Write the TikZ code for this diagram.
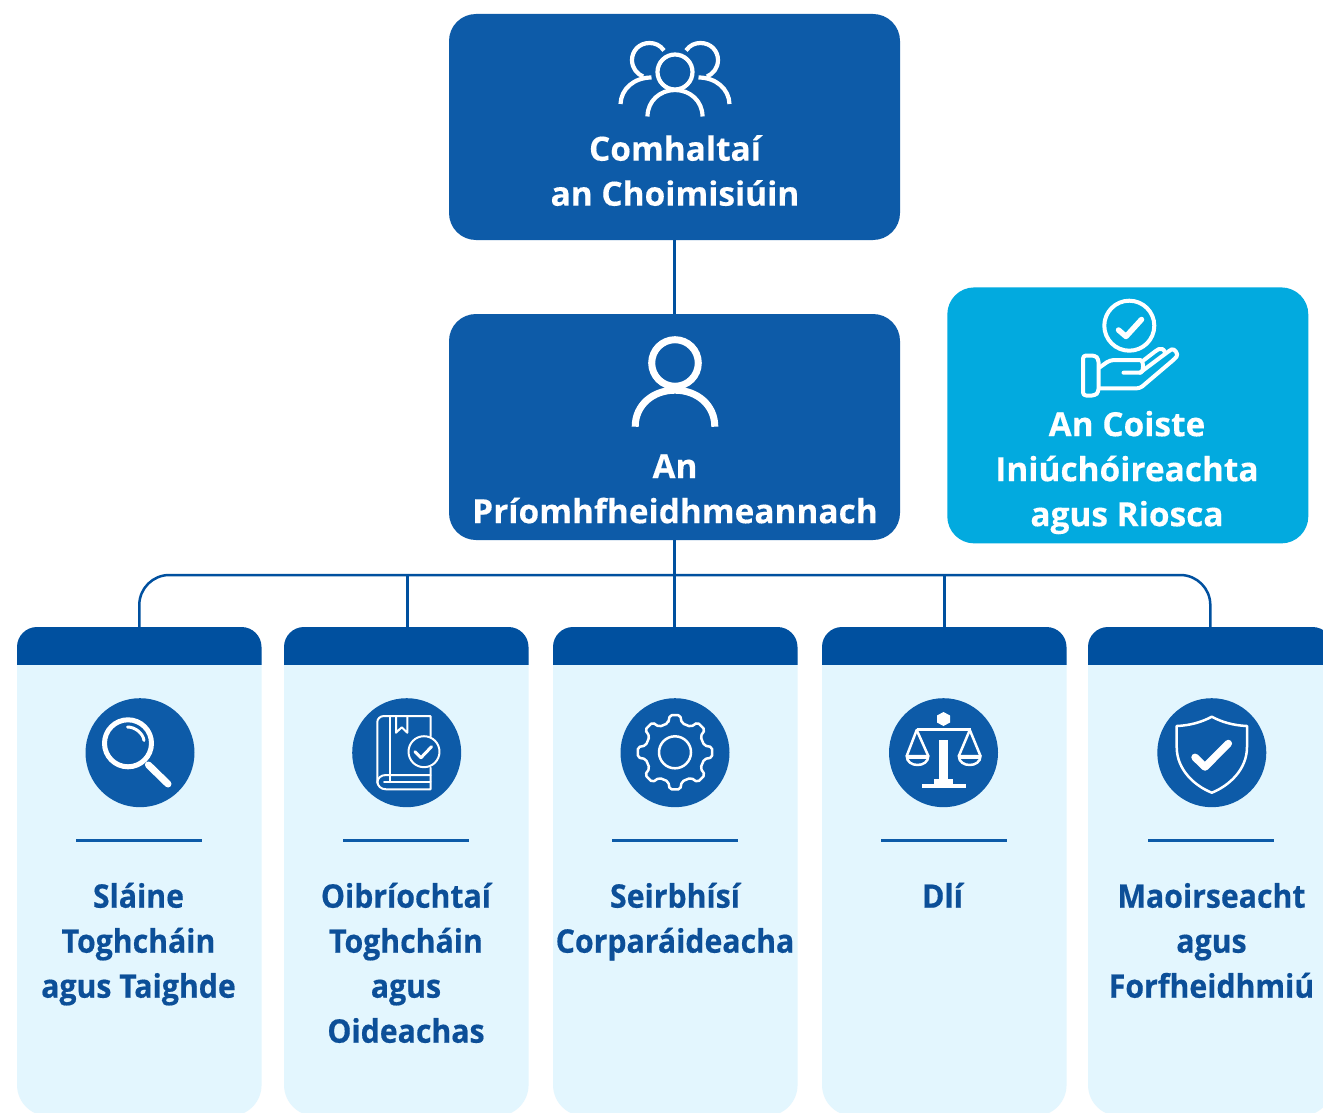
\documentclass[tikz,border=0pt]{standalone}
\usepackage{fontspec}
\setmainfont{Open Sans}[BoldFeatures={FakeBold=0.25}]
\newfontfamily\condfont{Open Sans}[FakeStretch=0.93,BoldFeatures={FakeBold=0.5}]
\definecolor{boxblue}{HTML}{0D5BA8}
\definecolor{hdrblue}{HTML}{00509F}
\definecolor{cyanbox}{HTML}{02AADF}
\definecolor{cardbg}{HTML}{E3F6FE}
\definecolor{cardtxt}{HTML}{0C4F98}
\tikzset{
  topbox/.style={fill=boxblue,rounded corners=27pt,minimum width=451pt,minimum height=226pt,inner sep=0pt},
  sidebox/.style={fill=cyanbox,rounded corners=27pt,minimum width=361pt,minimum height=256pt,inner sep=0pt},
  cardbox/.style={fill=cardbg,rounded corners=31pt,minimum width=244.5pt,minimum height=489pt,inner sep=0pt},
  hdrbox/.style={fill=hdrblue,rounded corners=20pt},
  whitetxt/.style={text=white,align=center,anchor=north,inner sep=0pt,font=\fontsize{33.4}{45}\selectfont\bfseries},
  cardtext/.style={text=cardtxt,align=center,anchor=north,inner sep=0pt,font=\fontsize{32.5}{45}\selectfont\condfont\bfseries},
  conn/.style={draw=hdrblue,line width=2.5pt},
  rulel/.style={draw=boxblue,line width=2.5pt},
  badge/.style={fill=boxblue,circle,minimum size=109pt,inner sep=0pt},
  ico/.style={draw=white,line join=round,line cap=round,fill=none},
}
\newcommand{\cardshape}[3]{% name, left x, centre x
  \node[cardbox] (#1) at (#3,871.5) {};
  \begin{scope}
    \clip (#2-1,627) rectangle (#2+246,664);
    \fill[hdrbox] (#2,627) rectangle (#2+244.5,760);
  \end{scope}
}
\begin{document}
\begin{tikzpicture}[x=1pt,y=-1pt]
\useasboundingbox (0,0) rectangle (1323,1113);
\clip (0,0) rectangle (1323,1113);
\fill[white] (0,0) rectangle (1323,1113);

% boxes
\node[topbox] (members) at (674.5,127) {};
\node[topbox] (ceo) at (674.5,427) {};
\node[sidebox] (audit) at (1127.8,415.4) {};

% cards
\cardshape{c1}{17}{139.3}
\cardshape{c2}{284}{406.3}
\cardshape{c3}{553}{675.3}
\cardshape{c4}{822}{944.3}
\cardshape{c5}{1088}{1210.3}

% connectors
\coordinate (bus) at (674.5,575);
\coordinate (d2) at (407.5,665);
\coordinate (d4) at (944.5,665);
\draw[conn] (members.south) -- (ceo.north);
\draw[conn] (ceo.south) -- (ceo.south |- c3.north);
\draw[conn,rounded corners=30pt] (c1.north) |- (bus) -| (c5.north);
\draw[conn] (bus -| d2) -- (d2);
\draw[conn] (bus -| d4) -- (d4);

% texts
\node[whitetxt] (t1) at (675,129) {\strut Comhaltaí\\an Choimisiúin};
\node[whitetxt] (t2) at (675,446.5) {\strut An\\Príomhfheidhmeannach};
\node[whitetxt] (t3) at (1127,404.5) {\strut An Coiste\\Iniúchóireachta\\agus Riosca};
\node[cardtext] (l1) at (138.5,876) {\strut Sláine\\Toghcháin\\agus Taighde};
\node[cardtext] (l2) at (406,876) {\strut Oibríochtaí\\Toghcháin\\agus\\Oideachas};
\node[cardtext] (l3) at (675,876) {\strut Seirbhísí\\Corparáideacha};
\node[cardtext] (l4) at (942.5,876) {\strut Dlí};
\node[cardtext] (l5) at (1211.5,876) {\strut Maoirseacht\\agus\\Forfheidhmiú};

% rules
\draw[rulel] (76,840.5) -- (202,840.5);
\draw[rulel] (343,840.5) -- (469,840.5);
\draw[rulel] (612,840.5) -- (738,840.5);
\draw[rulel] (881,840.5) -- (1007,840.5);
\draw[rulel] (1148,840.5) -- (1274,840.5);

% badges
\node[badge] (b1) at (140,752.7) {};
\node[badge] (b2) at (406.7,752.7) {};
\node[badge] (b3) at (675,752.7) {};
\node[badge] (b4) at (943.5,752.7) {};
\node[badge] (b5) at (1211.8,752.7) {};

% people icon
\begin{scope}[ico,line width=4.2pt]
  \draw[line cap=butt] (675,72) circle[radius=17.5];
  \draw[line cap=butt] (647.5,116.5) .. controls (647.5,101) and (660,90) .. (675,90) .. controls (690,90) and (702.5,101) .. (702.5,116.5);
  \draw[line cap=butt] (664,50.5) .. controls (660,45) and (655,43) .. (649.5,43) .. controls (639,43) and (632,51) .. (632,60) .. controls (632,68) and (637,74) .. (643,76.5);
  \draw[line cap=butt] (651.5,77.5) .. controls (634,77.5) and (621,89) .. (620.5,104);
  \draw[line cap=butt] (686,50.5) .. controls (690,45) and (695,43) .. (700.5,43) .. controls (711,43) and (718,51) .. (718,60) .. controls (718,68) and (713,74) .. (707,76.5);
  \draw[line cap=butt] (698.5,77.5) .. controls (716,77.5) and (729,89) .. (729.5,104);
\end{scope}

% person icon
\begin{scope}[ico,line width=7pt]
  \draw[line cap=butt] (675,363) circle[radius=23.3];
  \draw[line cap=butt] (635.2,426.7) .. controls (635.2,405) and (653,390.2) .. (675,390.2) .. controls (697,390.2) and (714.8,405) .. (714.8,426.7);
\end{scope}

% hand icon
\begin{scope}[ico,line width=4pt]
  \draw (1129.3,325.7) circle[radius=25];
  \draw[line width=5.5pt] (1118.5,330) -- (1126,336.5) -- (1141.5,319.5);
  \draw[rounded corners=3pt] (1083,355.5) -- (1095,355.5) -- (1098.5,359) -- (1098.5,392) -- (1095,395.5) -- (1083,395.5) -- cycle;
  \draw[rounded corners=4pt] (1099.5,367.5) -- (1110,360) -- (1136.5,360) .. controls (1144,360) and (1144,372.7) .. (1136.5,372.7) -- (1123.5,372.7);
  \draw[rounded corners=3pt] (1140,372.7) -- (1169,351) .. controls (1174,348) and (1179,354) .. (1174.5,359) -- (1140,388.3) -- (1099.5,388.3);
  \draw[rounded corners=2pt] (1144,360) -- (1157,350) .. controls (1161,348) and (1164,349) .. (1165,352.5);
\end{scope}

% magnifier
\begin{scope}[ico]
  \draw[line width=5pt] (128,743.3) circle[radius=23.5];
  \draw[line width=3pt] (127.5,727) .. controls (135,727) and (143,733) .. (144,740.5);
  \draw[line width=3.5pt,line cap=butt] (146,763) -- (150,767);
  \draw[line width=7pt] (148.5,765) -- (168,784);
\end{scope}

% book
\begin{scope}[ico,line width=2pt]
  \draw (430.5,736.5) -- (430.5,716) -- (384,716) .. controls (380,716) and (377.3,719) .. (377.3,722) -- (377.3,781) .. controls (377.3,786) and (381,789.3) .. (386,789.3) -- (430.5,789.3) -- (430.5,767.5);
  \draw (377.3,783) .. controls (377.3,778) and (381,775) .. (386,775) -- (430.5,775);
  \draw (390,716) -- (390,775);
  \draw (390,775) -- (390,782);
  \draw (384,782) -- (430.5,782);
  \draw (396,716) -- (396,732.7) -- (401.7,727.3) -- (407.3,732.7) -- (407.3,716);
  \draw (424,751.7) circle[radius=15.5];
  \draw[line width=3pt] (415,751.7) -- (421,757.7) -- (431.5,746.7);
\end{scope}

% gear
\begin{scope}[ico,shift={(675,752.3)}]
  \draw[line width=2.5pt,rounded corners=2pt]
    (-103:30) \foreach \a in {-90,-45,0,45,90,135,180,225} { -- (\a-13:30) -- (\a-8:37.5) -- (\a+8:37.5) -- (\a+13:30) } -- cycle;
  \draw[line width=2.5pt] (0,0) circle[radius=16];
\end{scope}

% scales
\begin{scope}[ico,line width=2.5pt]
  \fill[white] (943.5,712) -- (950,715.5) -- (950,722.5) -- (943.5,726) -- (937,722.5) -- (937,715.5) -- cycle;
  \draw[line width=3pt,line cap=butt] (916.5,729.5) -- (970.5,729.5);
  \fill[white] (939.3,740) rectangle (947.7,778.5);
  \fill[white] (934.3,778.5) rectangle (952.7,784);
  \fill[white] (921.7,784) rectangle (965.7,787.7);
  \draw (916.7,730) -- (906.7,756);
  \draw (916.7,730) -- (928.3,756);
  \draw (906.7,756) .. controls (906.7,768) and (928.3,768) .. (928.3,756) -- cycle;
  \draw[line width=1.5pt] (908,758) -- (927,758);
  \draw (969.8,730) -- (958.8,756);
  \draw (969.8,730) -- (980.5,756);
  \draw (958.8,756) .. controls (958.8,768) and (980.5,768) .. (980.5,756) -- cycle;
  \draw[line width=1.5pt] (960,758) -- (979,758);
\end{scope}

% shield
\begin{scope}[ico]
  \draw[line width=2.5pt] (1211.8,716.7) .. controls (1202,722) and (1190,725.5) .. (1176.7,726) -- (1176.7,747) .. controls (1176.7,770) and (1195,786) .. (1211.8,792.7) .. controls (1228.5,786) and (1247,770) .. (1247,747) -- (1247,726) .. controls (1233.5,725.5) and (1221.5,722) .. (1211.8,716.7) -- cycle;
  \draw[line width=7.5pt] (1195,757.3) -- (1205,767) -- (1228.3,743.5);
\end{scope}
\end{tikzpicture}
\end{document}
